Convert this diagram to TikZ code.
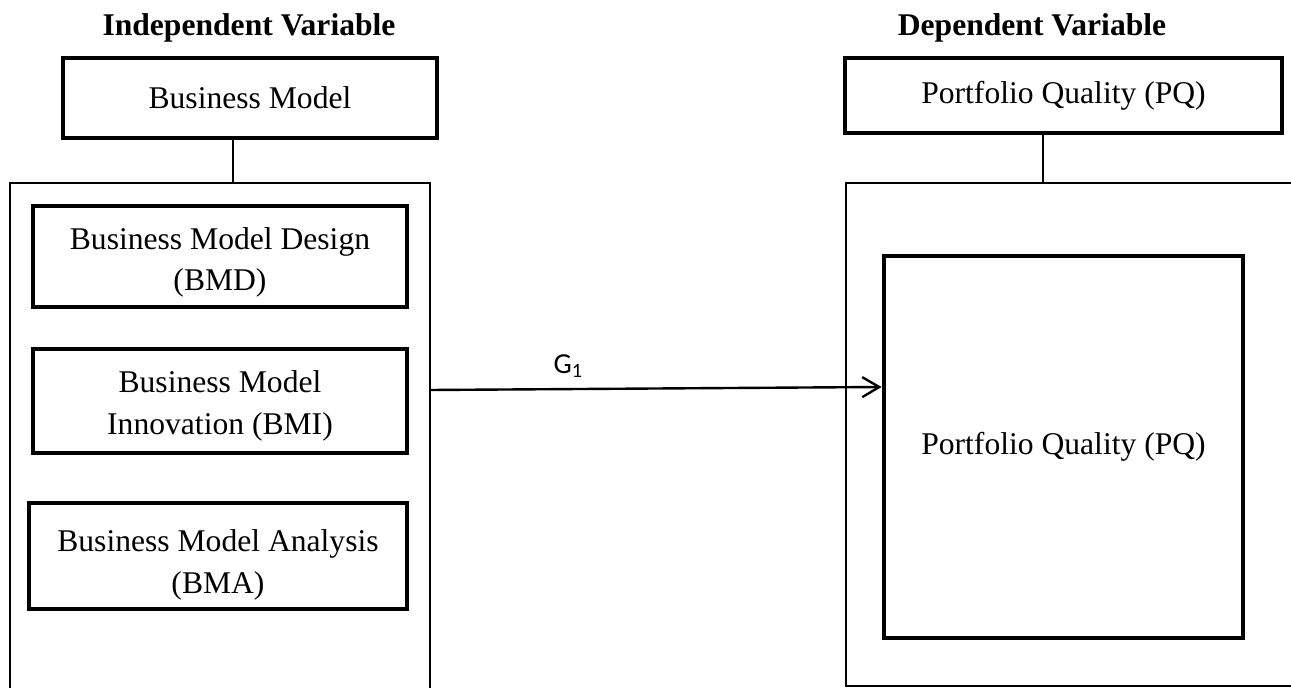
\documentclass[tikz,border=0pt]{standalone}
\usepackage{fontspec}
\setmainfont{Liberation Serif}
\newfontfamily\calibri{Carlito}
\usetikzlibrary{arrows.meta,positioning}
\newcommand{\topgap}[1]{\rule{0pt}{#1}}

\begin{document}
\begin{tikzpicture}[
    x=0.5pt, y=-0.5pt,
    font=\fontsize{15.8}{20.8}\selectfont,
    box/.style={draw, line width=2.4pt, align=center, inner sep=0pt},
    frame/.style={draw, line width=1pt, inner sep=0pt},
    title/.style={anchor=base, font=\fontsize{15.8}{20.8}\selectfont\bfseries},
    link/.style={line width=1pt},
    arrow/.style={-{Straight Barb[length=8.5pt,width=10pt]}, line width=1.2pt}
]
\useasboundingbox (0,0) rectangle (1291,688);
\clip (0,0) rectangle (1291,688);

% --- headings ---
\node[title] (ivtitle) at (249,36)  {Independent Variable};
\node[title] (dvtitle) at (1032,36) {Dependent Variable};

% --- independent side ---
\node[box, minimum width=187pt, minimum height=40pt] (bm) at (250,98) {Business Model};
\node[frame, minimum width=210pt, minimum height=268.5pt] (ivbox) at (220,451.5) {};
\node[box, minimum width=187pt, minimum height=50.5pt] (bmd) at (220,256.5) {\topgap{17pt}Business Model Design\\(BMD)};
\node[box, minimum width=187pt, minimum height=52pt] (bmi) at (220,401) {\topgap{16pt}Business Model\\Innovation (BMI)};
\node[box, minimum width=189pt, minimum height=53pt] (bma) at (218,556) {\topgap{20pt}Business Model Analysis\\(BMA)};

% --- dependent side ---
\node[box, minimum width=218.5pt, minimum height=37.5pt] (pqtop) at (1063.5,95.5) {Portfolio Quality (PQ)};
\node[frame, minimum width=237pt, minimum height=251.5pt] (dvbox) at (1083,434.5) {};
\node[box, minimum width=179.5pt, minimum height=191pt] (pq) at (1063.5,447) {Portfolio Quality (PQ)};

% connectors
\draw[link] (bm.south -| 233,0) -- (ivbox.north -| 233,0);
\draw[link] (pqtop.south -| 1043,0) -- (dvbox.north -| 1043,0);
\draw[arrow] (ivbox.east |- 0,390) -- (pq.west |- 0,387)
    node[pos=0.305, above=5pt, inner sep=0pt, font=\calibri\fontsize{14.5}{17}\selectfont] (g1) {G\textsubscript{1}};

\end{tikzpicture}
\end{document}
